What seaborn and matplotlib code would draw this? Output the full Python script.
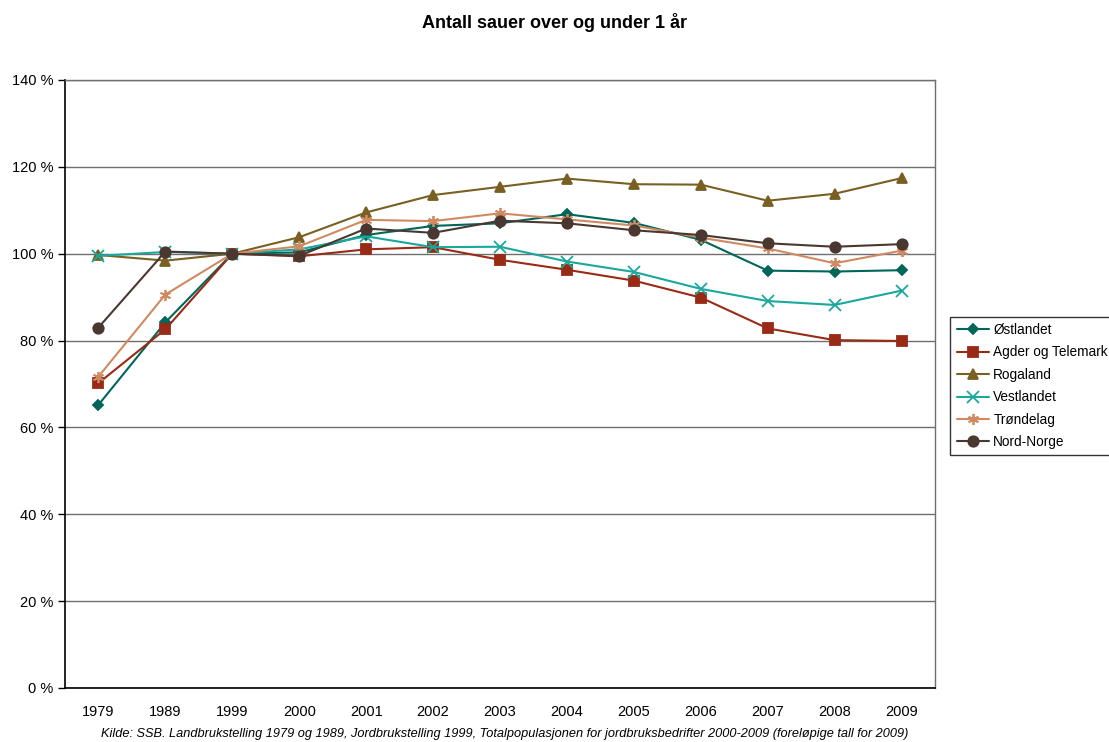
import numpy as np
import pandas as pd
import matplotlib
matplotlib.use("Agg")
import matplotlib.pyplot as plt
from matplotlib.ticker import FuncFormatter, FixedLocator
import seaborn as sns

years = ["1979", "1989", "1999", "2000", "2001", "2002", "2003",
         "2004", "2005", "2006", "2007", "2008", "2009"]

ostlandet = [65.2, 84.2, 100.0, 100.3, 104.3, 106.4, 107.0, 109.1, 107.1, 103.2, 96.1, 95.9, 96.2]
agder     = [70.2, 82.6, 100.0, 99.4, 101.0, 101.5, 98.6, 96.3, 93.8, 89.9, 82.8, 80.1, 79.9]
rogaland  = [99.7, 98.4, 100.0, 103.8, 109.5, 113.5, 115.4, 117.3, 116.0, 115.9, 112.2, 113.8, 117.4]
vestland  = [99.5, 100.4, 100.0, 101.0, 104.0, 101.5, 101.6, 98.2, 95.8, 91.9, 89.1, 88.2, 91.5]
trondelag = [71.7, 90.6, 100.0, 101.7, 107.8, 107.5, 109.3, 107.9, 106.5, 103.7, 101.2, 97.8, 100.7]
nordnorge = [83.0, 100.5, 100.0, 99.5, 105.8, 104.8, 107.6, 107.0, 105.4, 104.3, 102.4, 101.6, 102.2]

regions = ["Østlandet", "Agder og Telemark", "Rogaland", "Vestlandet", "Trøndelag", "Nord-Norge"]
values = [ostlandet, agder, rogaland, vestland, trondelag, nordnorge]
colors = ["#00665a", "#992a15", "#7a5f22", "#1aa89c", "#d08a62", "#4a3830"]
markers = ["D", "s", "^", "x", (6, 2, 0), "o"]
msizes = [5.5, 7, 7, 8, 8, 7.5]

df = pd.DataFrame({
    "year": years * len(regions),
    "region": np.repeat(regions, len(years)),
    "value": np.concatenate(values),
})

sns.set_style("white")
plt.rcParams["font.family"] = ["Liberation Sans", "DejaVu Sans"]
plt.rcParams["text.color"] = "black"
plt.rcParams["xtick.color"] = "black"
plt.rcParams["ytick.color"] = "black"

fig = plt.figure(figsize=(11.09, 7.42), dpi=100)
ax = fig.add_axes([0.0586, 0.0728, 0.7845, 0.8194])

for reg, col, mk, ms in zip(regions, colors, markers, msizes):
    sub = df[df["region"] == reg]
    sns.lineplot(data=sub, x="year", y="value", ax=ax, color=col, marker=mk,
                 markersize=ms, markeredgecolor=col, markerfacecolor=col,
                 markeredgewidth=1.3, linewidth=1.5, label=reg, sort=False)

ax.set_ylim(0, 140)
ax.set_xlim(-0.5, len(years) - 0.5)
ax.yaxis.set_major_locator(FixedLocator(np.arange(0, 141, 20)))
ax.yaxis.set_major_formatter(FuncFormatter(lambda v, p: f"{v:.0f} %"))
ax.grid(axis="y", color="#6e6e6e", linewidth=1.0)
ax.set_axisbelow(True)

ax.set_xticks(range(len(years)))
ax.set_xticklabels(years)
ax.set_xticks(np.arange(-0.5, len(years), 1.0), minor=True)
ax.tick_params(axis="x", which="major", length=0, pad=12, labelsize=10.5)
ax.tick_params(axis="x", which="minor", length=5, width=1, color="black", direction="out")
ax.tick_params(axis="y", length=5, width=1, color="black", direction="out", left=True, labelsize=10.5)
ax.set_xlabel("")
ax.set_ylabel("")

for side in ["left", "bottom"]:
    ax.spines[side].set_color("black")
    ax.spines[side].set_linewidth(1.2)
for side in ["top", "right"]:
    ax.spines[side].set_color("#6e6e6e")
    ax.spines[side].set_linewidth(1.0)

leg = ax.legend(loc="upper left", bbox_to_anchor=(0.857, 0.573), bbox_transform=fig.transFigure,
                frameon=True, fancybox=False, edgecolor="black", fontsize=9.8,
                borderpad=0.45, labelspacing=0.62, handlelength=2.4, handletextpad=0.3,
                borderaxespad=0)
leg.get_frame().set_linewidth(1.0)

fig.text(0.5, 0.97, "Antall sauer over og under 1 år", ha="center", va="center",
         fontsize=13, fontweight="bold")
fig.text(0.455, 0.003, "Kilde: SSB. Landbrukstelling 1979 og 1989, Jordbrukstelling 1999, "
         "Totalpopulasjonen for jordbruksbedrifter 2000-2009 (foreløpige tall for 2009)",
         ha="center", va="bottom", fontsize=9.2, style="italic")

fig.savefig("out.png", dpi=100)
